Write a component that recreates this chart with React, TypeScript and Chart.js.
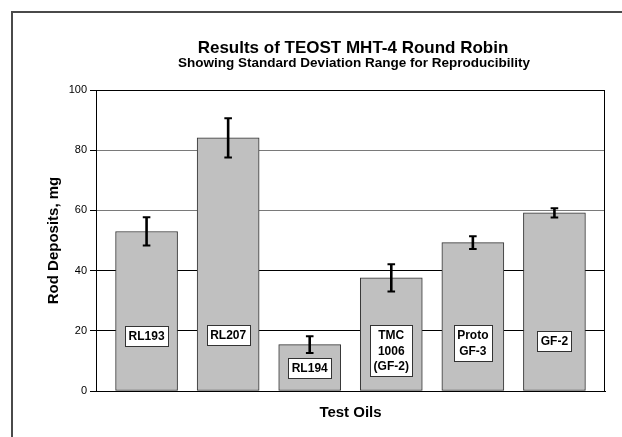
import React, { useEffect, useRef } from "react";
import { Chart, registerables } from "chart.js";

Chart.register(...registerables);

const categories = ["RL193", "RL207", "RL194", "TMC 1006 (GF-2)", "Proto GF-3", "GF-2"];
const labelLines = [["RL193"], ["RL207"], ["RL194"], ["TMC", "1006", "(GF-2)"], ["Proto", "GF-3"], ["GF-2"]];
const values = [53.0, 84.1, 15.4, 37.6, 49.3, 59.2];
const stdDev = [4.7, 6.5, 2.75, 4.55, 2.1, 1.55];
const yTickValues = [0, 20, 40, 60, 80, 100];
const titleText = "Results of TEOST MHT-4 Round Robin";
const subtitleText = "Showing Standard Deviation Range for Reproducibility";

const FONT = "'Liberation Sans', Arial, sans-serif";

const framePlugin = {
  id: "frame",
  beforeDraw(chart: any) {
    const ctx = chart.ctx;
    ctx.save();
    ctx.fillStyle = "#ffffff";
    ctx.fillRect(0, 0, chart.width, chart.height);
    ctx.strokeStyle = "#4a4a4a";
    ctx.lineWidth = 2;
    ctx.beginPath();
    ctx.moveTo(12, chart.height);
    ctx.lineTo(12, 12);
    ctx.lineTo(chart.width, 12);
    ctx.stroke();
    // titles
    ctx.fillStyle = "#000";
    ctx.textAlign = "center";
    ctx.textBaseline = "middle";
    ctx.font = `bold 17px ${FONT}`;
    ctx.fillText(titleText, 353, 48);
    ctx.font = `bold 13.5px ${FONT}`;
    ctx.fillText(subtitleText, 354, 63);
    ctx.restore();
  },
  beforeDatasetsDraw(chart: any) {
    const { ctx, chartArea } = chart;
    ctx.save();
    ctx.strokeStyle = "#000";
    ctx.lineWidth = 1;
    ctx.strokeRect(
      Math.round(chartArea.left) + 0.5,
      Math.round(chartArea.top) + 0.5,
      Math.round(chartArea.right - chartArea.left) - 1,
      Math.round(chartArea.bottom - chartArea.top)
    );
    ctx.restore();
  },
};

const errorBarPlugin = {
  id: "errorBars",
  afterDatasetsDraw(chart: any) {
    const { ctx } = chart;
    const xs = chart.scales.x;
    const ys = chart.scales.y;
    ctx.save();
    ctx.strokeStyle = "#000";
    values.forEach((v, i) => {
      const x = xs.getPixelForValue(i);
      const yT = ys.getPixelForValue(v + stdDev[i]);
      const yB = ys.getPixelForValue(v - stdDev[i]);
      ctx.lineWidth = 2.6;
      ctx.beginPath();
      ctx.moveTo(x, yT);
      ctx.lineTo(x, yB);
      ctx.stroke();
      ctx.lineWidth = 2;
      ctx.beginPath();
      ctx.moveTo(x - 3.8, yT);
      ctx.lineTo(x + 3.8, yT);
      ctx.moveTo(x - 3.8, yB);
      ctx.lineTo(x + 3.8, yB);
      ctx.stroke();
    });
    ctx.restore();
  },
};

const barLabelPlugin = {
  id: "barLabels",
  afterDatasetsDraw(chart: any, _args: any, opts: any) {
    const { ctx } = chart;
    const xs = chart.scales.x;
    const ys = chart.scales.y;
    const anchors: number[] = opts.anchors || [];
    const lineH = 15.3;
    ctx.save();
    ctx.font = `bold 12px ${FONT}`;
    ctx.textAlign = "center";
    ctx.textBaseline = "middle";
    labelLines.forEach((lines, i) => {
      const cx = xs.getPixelForValue(i);
      const top = ys.getPixelForValue(anchors[i]);
      const w = Math.max(...lines.map((l) => ctx.measureText(l).width)) + 7;
      const h = lines.length * lineH + 5;
      const left = Math.round(cx - w / 2) + 0.5;
      const t = Math.round(top) + 0.5;
      ctx.fillStyle = "#fff";
      ctx.fillRect(left, t, Math.round(w), Math.round(h));
      ctx.strokeStyle = "#333";
      ctx.lineWidth = 1;
      ctx.strokeRect(left, t, Math.round(w), Math.round(h));
      ctx.fillStyle = "#000";
      lines.forEach((l, k) => {
        ctx.fillText(l, cx, top + 2.5 + lineH * (k + 0.5) + 0.5);
      });
    });
    ctx.restore();
  },
};

export default function App() {
  const ref = useRef<HTMLCanvasElement | null>(null);
  useEffect(() => {
    if (!ref.current) return;
    const chart = new Chart(ref.current, {
      type: "bar",
      data: {
        labels: categories,
        datasets: [
          {
            label: "Rod Deposits",
            data: values.map((v, i) => ({ x: i, y: v })),
            backgroundColor: "#c0c0c0",
            borderColor: "#333333",
            borderWidth: 1,
            borderSkipped: false,
            barThickness: 62,
          },
        ],
      },
      options: {
        animation: false,
        responsive: false,
        devicePixelRatio: 1,
        layout: { padding: { left: 0, right: 17, top: 90, bottom: 0 } },
        plugins: {
          legend: { display: false },
          tooltip: { enabled: false },
          title: { display: false },
          barLabels: { anchors: [21.7, 21.8, 11.1, 21.8, 21.8, 19.8] },
        } as any,
        scales: {
          x: {
            type: "linear",
            min: -0.62,
            max: 5.62,
            offset: false,
            ticks: { display: false },
            grid: { display: false },
            border: { display: true, color: "#000", width: 1 },
            title: {
              display: true,
              text: "Test Oils",
              color: "#000",
              font: { family: FONT, size: 15, weight: "bold" },
              padding: { top: 0, bottom: 15 },
            },
            afterFit: (s: any) => {
              s.height = 46;
            },
          },
          y: {
            min: 0,
            max: 100,
            afterBuildTicks: (s: any) => {
              s.ticks = yTickValues.map((v) => ({ value: v }));
            },
            ticks: {
              color: "#000",
              padding: 3,
              font: { family: FONT, size: 11 },
            },
            grid: {
              color: (c: any) => {
                const v = c.tick && c.tick.value;
                if (v === 60 || v === 80) return "#7a7a7a";
                return "#000";
              },
              tickColor: "#000",
              tickLength: 6,
              lineWidth: 1,
            },
            border: { display: true, color: "#000", width: 1 },
            title: {
              display: true,
              text: "Rod Deposits, mg",
              color: "#000",
              font: { family: FONT, size: 15, weight: "bold" },
              padding: { top: 45, bottom: 0 },
            },
            afterFit: (s: any) => {
              s.width = 96;
            },
          },
        },
      },
      plugins: [framePlugin, errorBarPlugin, barLabelPlugin],
    } as any);
    return () => chart.destroy();
  }, []);
  return (
    <div style={{ position: "fixed", left: 0, top: 0, width: 622, height: 437, background: "#fff" }}>
      <canvas ref={ref} width={622} height={437} style={{ display: "block" }} />
    </div>
  );
}
